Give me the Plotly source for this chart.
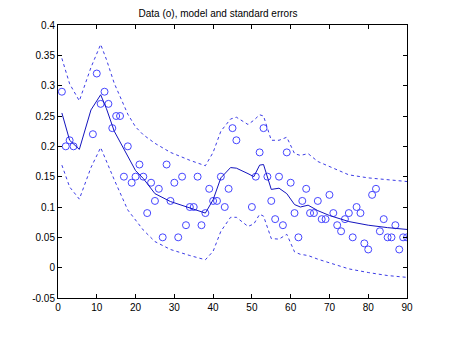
import plotly.graph_objects as go

# observed data (circles)
data_x = [1, 2, 3, 4, 9, 10, 11, 12, 13, 14, 15, 16, 17, 18, 19, 20, 21, 22, 23, 24,
          25, 26, 27, 28, 29, 30, 31, 32, 33, 34, 35, 36, 37, 38, 39, 40, 41, 42, 43, 44,
          45, 46, 50, 51, 52, 53, 54, 55, 56, 57, 58, 59, 60, 61, 62, 63, 64, 65, 66, 67,
          68, 69, 70, 71, 72, 73, 74, 75, 76, 77, 78, 79, 80, 81, 82, 83, 84, 85, 86, 87,
          88, 89, 90]
data_y = [0.29, 0.20, 0.21, 0.20, 0.22, 0.32, 0.27, 0.29, 0.27, 0.23, 0.25, 0.25, 0.15, 0.20, 0.14, 0.15, 0.17, 0.15, 0.09, 0.14,
          0.11, 0.13, 0.05, 0.17, 0.11, 0.14, 0.05, 0.15, 0.07, 0.10, 0.10, 0.15, 0.07, 0.09, 0.13, 0.11, 0.11, 0.15, 0.10, 0.13,
          0.23, 0.21, 0.10, 0.15, 0.19, 0.23, 0.15, 0.11, 0.08, 0.15, 0.07, 0.19, 0.14, 0.09, 0.05, 0.11, 0.13, 0.09, 0.09, 0.11,
          0.08, 0.08, 0.12, 0.09, 0.07, 0.06, 0.08, 0.09, 0.05, 0.10, 0.09, 0.04, 0.03, 0.12, 0.13, 0.06, 0.08, 0.05, 0.05, 0.07,
          0.03, 0.05, 0.05]

# model and standard error bands
line_x = [1, 3, 5.5, 8.5, 11, 12.5, 14.5, 18, 20, 22, 25, 29, 34, 38, 40, 42, 44.5, 46, 49, 50.5,
          52, 53, 55, 57, 59, 61, 62.5, 64.5, 67, 70, 75, 80, 85, 90]
model_y = [0.255, 0.21, 0.195, 0.26, 0.285, 0.262, 0.225, 0.185, 0.16, 0.147, 0.122, 0.109, 0.099, 0.09, 0.112, 0.148, 0.165, 0.164, 0.155, 0.150,
           0.169, 0.170, 0.129, 0.131, 0.122, 0.104, 0.100, 0.103, 0.094, 0.086, 0.076, 0.070, 0.066, 0.063]
upper_y = [0.345, 0.303, 0.275, 0.33, 0.368, 0.343, 0.304, 0.253, 0.232, 0.219, 0.205, 0.19, 0.177, 0.168, 0.19, 0.225, 0.245, 0.248, 0.236, 0.243,
           0.252, 0.25, 0.21, 0.21, 0.215, 0.188, 0.185, 0.188, 0.175, 0.167, 0.153, 0.148, 0.145, 0.142]
lower_y = [0.169, 0.133, 0.113, 0.165, 0.198, 0.175, 0.145, 0.095, 0.078, 0.062, 0.043, 0.03, 0.02, 0.013, 0.027, 0.06, 0.083, 0.083, 0.068, 0.072,
           0.088, 0.085, 0.048, 0.047, 0.055, 0.026, 0.022, 0.02, 0.014, 0.008, -0.002, -0.008, -0.013, -0.016]

x_ticks = [0, 10, 20, 30, 40, 50, 60, 70, 80, 90]
y_ticks = [-0.05, 0, 0.05, 0.1, 0.15, 0.2, 0.25, 0.3, 0.35, 0.4]
y_tick_text = ["-0.05", "0", "0.05", "0.1", "0.15", "0.2", "0.25", "0.3", "0.35", "0.4"]

fig = go.Figure()
fig.add_trace(go.Scatter(x=data_x, y=data_y, mode="markers",
                         marker=dict(symbol="circle-open", size=7, color="rgb(70,70,255)",
                                     line=dict(width=1, color="rgb(70,70,255)"))))
fig.add_trace(go.Scatter(x=line_x, y=model_y, mode="lines",
                         line=dict(color="rgb(20,20,190)", width=1)))
for band in (upper_y, lower_y):
    fig.add_trace(go.Scatter(x=line_x, y=band, mode="lines",
                             line=dict(color="rgb(60,60,230)", width=1, dash="3px,3px")))

axis_common = dict(showline=True, linecolor="black", linewidth=1, mirror="ticks",
                   ticks="inside", ticklen=4, tickcolor="black", showgrid=False,
                   zeroline=False, tickfont=dict(family="Liberation Sans, Arial", size=10, color="black"))

fig.update_layout(
    width=450, height=337,
    margin=dict(l=58, r=43, t=25, b=39),
    paper_bgcolor="white", plot_bgcolor="white",
    showlegend=False,
    title=dict(text="Data (o), model and standard errors", x=218 / 450, xanchor="center",
               y=1 - 13 / 337, yanchor="middle", xref="paper",
               font=dict(family="Liberation Sans, Arial", size=10, color="black")),
    xaxis=dict(range=[0, 90], tickvals=x_ticks, **axis_common),
    yaxis=dict(range=[-0.05, 0.4], tickvals=y_ticks, ticktext=y_tick_text, **axis_common),
)
fig.update_layout(title_xref="container")
fig.write_html("out.html")
